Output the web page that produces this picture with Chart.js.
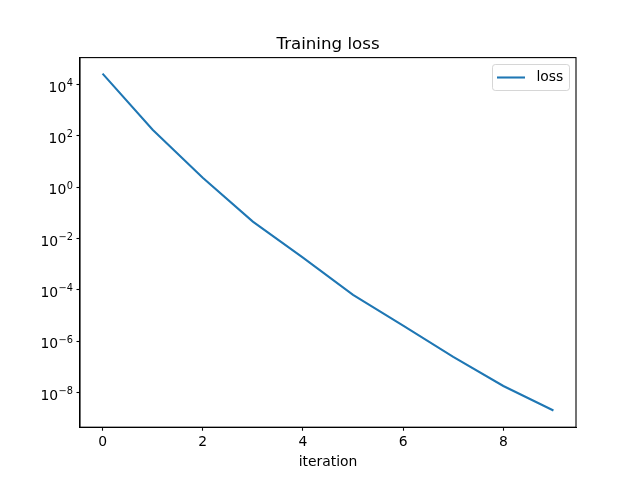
<!DOCTYPE html>
<html>
<head>
<meta charset="utf-8">
<script src="https://cdn.jsdelivr.net/npm/chart.js@4/dist/chart.umd.min.js"></script>
<style>
  html, body { margin: 0; padding: 0; background: #fff; }
  #wrap { width: 640px; height: 480px; }
</style>
</head>
<body>
<div id="wrap"><canvas id="c" width="640" height="480"></canvas></div>
<script>
// ---- data ----
const iterations = [0, 1, 2, 3, 4, 5, 6, 7, 8, 9];
const lossValues = [2.6e4, 1.7e2, 2.3, 4.5e-2, 1.8e-3, 6.3e-5, 4.0e-6, 2.45e-7, 1.8e-8, 2.0e-9];
const xTickValues = [0, 2, 4, 6, 8];
const yTickExponents = [4, 2, 0, -2, -4, -6, -8];
const chartTitle = 'Training loss';
const xAxisTitle = 'iteration';
const seriesLabel = 'loss';

const FONT = 'DejaVu Sans';
const TICK_PX = 13.9;
const LINE_COLOR = '#1f77b4';

const frameAndLabels = {
  id: 'frameAndLabels',
  afterDraw(chart) {
    const ctx = chart.ctx;
    const a = chart.chartArea;
    const ys = chart.scales.y;
    ctx.save();
    // spines
    ctx.strokeStyle = '#000';
    ctx.lineWidth = 1.1;
    ctx.strokeRect(a.left, a.top, a.right - a.left, a.bottom - a.top);

    // title
    ctx.fillStyle = '#000';
    ctx.font = '16.67px "' + FONT + '"';
    ctx.textAlign = 'center';
    ctx.textBaseline = 'alphabetic';
    ctx.fillText(chartTitle, (a.left + a.right) / 2, a.top - 8.3);

    // y tick labels 10^e
    const xr = a.left - 7;
    yTickExponents.forEach(e => {
      const y = ys.getPixelForValue(Math.pow(10, e));
      const sup = e < 0 ? '\u2212' + Math.abs(e) : String(e);
      ctx.font = '9.8px "' + FONT + '"';
      const sw = ctx.measureText(sup).width;
      ctx.textAlign = 'left';
      ctx.fillText(sup, xr - sw, y + 1.6);
      ctx.font = TICK_PX + 'px "' + FONT + '"';
      const bw = ctx.measureText('10').width;
      ctx.fillText('10', xr - sw - bw - 0.5, y + 7.3);
    });

    // legend
    const lx0 = 492.5, ly0 = 64.5, lx1 = 569.5, ly1 = 90.5, r = 2.8;
    ctx.beginPath();
    ctx.moveTo(lx0 + r, ly0);
    ctx.lineTo(lx1 - r, ly0);
    ctx.arcTo(lx1, ly0, lx1, ly0 + r, r);
    ctx.lineTo(lx1, ly1 - r);
    ctx.arcTo(lx1, ly1, lx1 - r, ly1, r);
    ctx.lineTo(lx0 + r, ly1);
    ctx.arcTo(lx0, ly1, lx0, ly1 - r, r);
    ctx.lineTo(lx0, ly0 + r);
    ctx.arcTo(lx0, ly0, lx0 + r, ly0, r);
    ctx.closePath();
    ctx.fillStyle = 'rgba(255,255,255,0.8)';
    ctx.fill();
    ctx.strokeStyle = 'rgba(204,204,204,0.8)';
    ctx.lineWidth = 1;
    ctx.stroke();
    const ly = (ly0 + ly1) / 2;
    ctx.strokeStyle = LINE_COLOR;
    ctx.lineWidth = 2.08;
    ctx.beginPath();
    ctx.moveTo(497, ly);
    ctx.lineTo(525, ly);
    ctx.stroke();
    ctx.fillStyle = '#000';
    ctx.font = TICK_PX + 'px "' + FONT + '"';
    ctx.textAlign = 'left';
    ctx.textBaseline = 'middle';
    ctx.fillText(seriesLabel, 536.5, ly);
    ctx.restore();
  }
};

new Chart(document.getElementById('c'), {
  type: 'line',
  data: {
    datasets: [{
      label: seriesLabel,
      data: iterations.map((x, i) => ({ x: x, y: lossValues[i] })),
      borderColor: LINE_COLOR,
      backgroundColor: LINE_COLOR,
      borderWidth: 2.08,
      pointRadius: 0,
      tension: 0,
      fill: false
    }]
  },
  options: {
    responsive: false,
    animation: false,
    devicePixelRatio: 1,
    layout: { padding: { left: 0, right: 64, top: 57.6, bottom: 0 } },
    plugins: {
      legend: { display: false },
      title: { display: false },
      tooltip: { enabled: false }
    },
    scales: {
      x: {
        type: 'linear',
        min: -0.45,
        max: 9.45,
        afterBuildTicks: s => { s.ticks = xTickValues.map(v => ({ value: v })); },
        afterFit: s => { s.height = 52.8; },
        grid: { drawOnChartArea: false, drawTicks: true, tickLength: 3.5, tickColor: '#000', tickWidth: 1.1 },
        border: { display: true, color: '#000', width: 1.1 },
        ticks: { color: '#000', padding: 3, maxRotation: 0, font: { family: FONT, size: TICK_PX }, callback: v => String(v) },
        title: { display: true, text: xAxisTitle, color: '#000', font: { family: FONT, size: TICK_PX }, padding: { top: 0, bottom: 9 } }
      },
      y: {
        type: 'logarithmic',
        min: Math.pow(10, -9.35),
        max: Math.pow(10, 5.04),
        bounds: 'data',
        afterBuildTicks: s => { s.ticks = yTickExponents.map(e => ({ value: Math.pow(10, e) })); },
        afterFit: s => { s.width = 80; },
        grid: { drawOnChartArea: false, drawTicks: true, tickLength: 3.5, tickColor: '#000', tickWidth: 1.1 },
        border: { display: true, color: '#000', width: 1.1 },
        ticks: { display: false }
      }
    }
  },
  plugins: [frameAndLabels]
});
</script>
</body>
</html>
